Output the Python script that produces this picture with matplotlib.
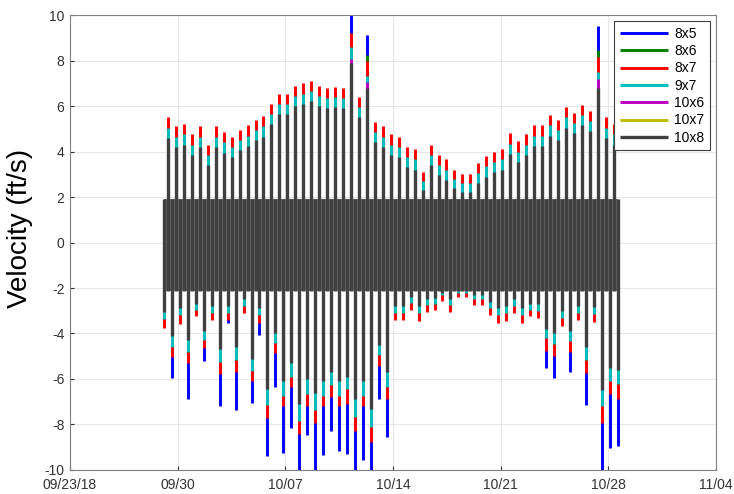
import pandas as pd
import matplotlib
matplotlib.use('Agg')
import matplotlib.pyplot as plt

plt.rcParams['font.family'] = ['Liberation Sans', 'DejaVu Sans']
plt.rcParams['axes.unicode_minus'] = False

# culvert sizes and line colours (old MATLAB colour order)
sizes = ['8x5', '8x6', '8x7', '9x7', '10x6', '10x7', '10x8']
colors = ['#0000ff', '#008000', '#ff0000', '#00bfbf', '#bf00bf', '#bfbf00', '#404040']

# one flood peak and one ebb peak per tide cycle (12h25)
first_ebb = '2018-09-29 02:40'
n_ebb = 58
tide_step = '745min'

# flood (positive) peak velocities, ft/s
pos_8x5 = [4.75, 4.35, 4.45, 4.0, 4.35, 3.55, 4.35, 4.1, 3.9, 4.2, 4.4, 4.65, 4.8, 5.35, 5.8, 5.8, 6.15, 6.25, 6.35,
           6.15, 6.05, 6.1, 6.05, 10.0, 5.65, 9.1, 4.55, 4.35, 4.0, 3.9, 3.45, 3.35, 2.4, 3.55, 3.1, 2.9, 2.5, 2.3, 2.3,
           2.75, 3.05, 3.25, 3.35, 4.05, 3.7, 4.0, 4.4, 4.4, 4.85, 4.65, 5.2, 4.95, 5.3, 5.05, 9.5, 4.75, 4.45]
pos_8x6 = [5.3, 4.9, 5.0, 4.55, 4.9, 4.1, 4.9, 4.65, 4.45, 4.75, 4.95, 5.2, 5.35, 5.9, 6.35, 6.35, 6.7, 6.8, 6.9,
           6.7, 6.6, 6.65, 6.6, 9.2, 6.2, 8.25, 5.1, 4.9, 4.55, 4.45, 4.0, 3.9, 2.9, 4.1, 3.65, 3.45, 3.0, 2.8, 2.8,
           3.3, 3.6, 3.8, 3.9, 4.6, 4.25, 4.55, 4.95, 4.95, 5.4, 5.2, 5.75, 5.5, 5.85, 5.6, 8.45, 5.3, 5.0]
pos_8x7 = [5.5, 5.1, 5.2, 4.75, 5.1, 4.3, 5.1, 4.85, 4.65, 4.95, 5.15, 5.4, 5.55, 6.1, 6.55, 6.55, 6.9, 7.0, 7.1,
           6.9, 6.8, 6.85, 6.8, 9.2, 6.4, 8.0, 5.3, 5.1, 4.75, 4.65, 4.2, 4.1, 3.1, 4.3, 3.85, 3.65, 3.2, 3.0, 3.0,
           3.5, 3.8, 4.0, 4.1, 4.8, 4.45, 4.75, 5.15, 5.15, 5.6, 5.4, 5.95, 5.7, 6.05, 5.8, 8.15, 5.5, 5.2]
pos_9x7 = [5.05, 4.65, 4.75, 4.3, 4.65, 3.85, 4.65, 4.4, 4.2, 4.5, 4.7, 4.95, 5.1, 5.65, 6.1, 6.1, 6.45, 6.55, 6.65,
           6.45, 6.35, 6.4, 6.35, 8.6, 5.95, 7.3, 4.85, 4.65, 4.3, 4.2, 3.75, 3.65, 2.7, 3.85, 3.4, 3.2, 2.8, 2.6, 2.6,
           3.05, 3.35, 3.55, 3.65, 4.35, 4.0, 4.3, 4.7, 4.7, 5.15, 4.95, 5.5, 5.25, 5.6, 5.35, 7.5, 5.05, 4.75]
pos_10x6 = [4.5, 4.1, 4.2, 3.75, 4.1, 3.3, 4.1, 3.85, 3.65, 3.95, 4.15, 4.4, 4.55, 5.1, 5.55, 5.55, 5.9, 6.0, 6.1,
            5.9, 5.8, 5.85, 5.8, 8.05, 5.4, 7.05, 4.3, 4.1, 3.75, 3.65, 3.2, 3.1, 2.2, 3.3, 2.85, 2.65, 2.3, 2.1, 2.1,
            2.5, 2.8, 3.0, 3.1, 3.8, 3.45, 3.75, 4.15, 4.15, 4.6, 4.4, 4.95, 4.7, 5.05, 4.8, 7.2, 4.5, 4.2]
pos_10x7 = [4.4, 4.0, 4.1, 3.65, 4.0, 3.2, 4.0, 3.75, 3.55, 3.85, 4.05, 4.3, 4.45, 5.0, 5.45, 5.45, 5.8, 5.9, 6.0,
            5.8, 5.7, 5.75, 5.7, 7.8, 5.3, 6.7, 4.2, 4.0, 3.65, 3.55, 3.1, 3.0, 2.1, 3.2, 2.75, 2.55, 2.2, 2.0, 2.0,
            2.4, 2.7, 2.9, 3.0, 3.7, 3.35, 3.65, 4.05, 4.05, 4.5, 4.3, 4.85, 4.6, 4.95, 4.7, 6.7, 4.4, 4.1]
pos_10x8 = [4.6, 4.2, 4.3, 3.85, 4.2, 3.4, 4.2, 3.95, 3.75, 4.05, 4.25, 4.5, 4.65, 5.2, 5.65, 5.65, 6.0, 6.1, 6.2,
            6.0, 5.9, 5.95, 5.9, 7.9, 5.5, 6.8, 4.4, 4.2, 3.85, 3.75, 3.3, 3.2, 2.3, 3.4, 2.95, 2.75, 2.4, 2.2, 2.2,
            2.6, 2.9, 3.1, 3.2, 3.9, 3.55, 3.85, 4.25, 4.25, 4.7, 4.5, 5.05, 4.8, 5.15, 4.9, 6.8, 4.6, 4.3]

# ebb (negative) peak velocities, ft/s
neg_8x5 = [-3.6, -5.95, -3.4, -6.9, -3.1, -5.2, -3.2, -7.2, -3.55, -7.35, -2.9, -7.05, -4.05, -9.4, -6.35, -9.25,
           -8.15, -10.3, -8.45, -10.2, -9.35, -8.3, -9.15, -9.3, -10.4, -9.55, -10.3, -6.9, -8.55, -3.2, -3.2, -2.75,
           -3.25, -2.85, -2.8, -2.4, -2.85, -2.25, -2.25, -2.6, -2.6, -3.0, -3.35, -3.25, -2.95, -3.35, -3.1, -3.1,
           -5.5, -5.95, -3.45, -5.7, -3.25, -7.15, -3.3, -10.5, -9.05, -8.95]
neg_8x6 = [-3.6, -4.9, -3.45, -5.15, -3.1, -4.5, -3.25, -5.65, -3.25, -5.55, -2.95, -5.95, -3.4, -7.55, -4.7, -7.05,
           -6.2, -8.25, -7.05, -7.8, -7.05, -6.65, -7.05, -6.95, -8.15, -7.05, -8.6, -5.3, -6.75, -3.25, -3.25, -2.8,
           -3.3, -2.9, -2.8, -2.4, -2.9, -2.25, -2.25, -2.6, -2.6, -3.05, -3.4, -3.3, -2.95, -3.4, -3.1, -3.15,
           -4.6, -4.85, -3.5, -4.65, -3.25, -5.6, -3.35, -7.8, -6.5, -6.75]
neg_8x7 = [-3.75, -5.05, -3.6, -5.3, -3.25, -4.65, -3.4, -5.8, -3.4, -5.7, -3.1, -6.1, -3.55, -7.7, -4.85, -7.2,
           -6.35, -8.4, -7.2, -7.95, -7.2, -6.8, -7.2, -7.1, -8.3, -7.2, -8.75, -5.45, -6.9, -3.4, -3.4, -2.95,
           -3.45, -3.05, -2.95, -2.55, -3.05, -2.4, -2.4, -2.75, -2.75, -3.2, -3.55, -3.45, -3.1, -3.55, -3.25, -3.3,
           -4.75, -5.0, -3.65, -4.8, -3.4, -5.75, -3.5, -7.95, -6.65, -6.9]
neg_9x7 = [-3.35, -4.6, -3.2, -4.8, -2.95, -4.3, -3.1, -5.25, -3.1, -5.15, -2.8, -5.65, -3.2, -7.15, -4.4, -6.75,
           -5.9, -7.85, -6.65, -7.35, -6.75, -6.25, -6.75, -6.45, -7.65, -6.75, -8.1, -4.95, -6.35, -3.1, -3.1, -2.65,
           -3.1, -2.75, -2.7, -2.3, -2.75, -2.2, -2.2, -2.5, -2.5, -2.9, -3.2, -3.1, -2.8, -3.2, -2.95, -3.0,
           -4.2, -4.45, -3.3, -4.35, -3.1, -5.15, -3.15, -7.2, -6.1, -6.2]
neg_10x6 = [-2.95, -4.0, -2.8, -4.2, -2.6, -3.8, -2.7, -4.6, -2.7, -4.5, -2.4, -5.0, -2.8, -6.35, -3.9, -6.0,
            -5.2, -7.0, -5.9, -6.5, -6.0, -5.6, -6.0, -5.8, -6.8, -6.0, -7.2, -4.4, -5.6, -2.7, -2.7, -2.3,
            -2.7, -2.4, -2.35, -2.1, -2.4, -2.05, -2.05, -2.2, -2.2, -2.5, -2.8, -2.7, -2.4, -2.8, -2.6, -2.6,
            -3.7, -3.9, -2.9, -3.8, -2.7, -4.5, -2.75, -6.4, -5.4, -5.5]
neg_10x7 = [-2.85, -3.9, -2.7, -4.1, -2.5, -3.7, -2.6, -4.5, -2.6, -4.4, -2.3, -4.9, -2.7, -6.25, -3.8, -5.9,
            -5.1, -6.9, -5.8, -6.4, -5.9, -5.5, -5.9, -5.7, -6.7, -5.9, -7.1, -4.3, -5.5, -2.6, -2.6, -2.2,
            -2.6, -2.3, -2.25, -2.0, -2.3, -1.95, -1.95, -2.1, -2.1, -2.4, -2.7, -2.6, -2.3, -2.7, -2.5, -2.5,
            -3.6, -3.8, -2.8, -3.7, -2.6, -4.4, -2.65, -6.3, -5.3, -5.4]
neg_10x8 = [-3.05, -4.1, -2.9, -4.3, -2.7, -3.9, -2.8, -4.7, -2.8, -4.6, -2.5, -5.1, -2.9, -6.45, -4.0, -6.1,
            -5.3, -7.1, -6.0, -6.6, -6.1, -5.7, -6.1, -5.9, -6.9, -6.1, -7.3, -4.5, -5.7, -2.8, -2.8, -2.4,
            -2.8, -2.5, -2.45, -2.2, -2.5, -2.15, -2.15, -2.3, -2.3, -2.6, -2.9, -2.8, -2.5, -2.9, -2.7, -2.7,
            -3.8, -4.0, -3.0, -3.9, -2.8, -4.6, -2.85, -6.5, -5.5, -5.6]

# range the 10x8 velocity keeps swinging through between peaks
band_10x8 = (-2.15, 1.9)

pos_all = [pos_8x5, pos_8x6, pos_8x7, pos_9x7, pos_10x6, pos_10x7, pos_10x8]
neg_all = [neg_8x5, neg_8x6, neg_8x7, neg_9x7, neg_10x6, neg_10x7, neg_10x8]

xtick_dates = pd.date_range('2018-09-23', '2018-11-04', freq='7D')
xtick_labels = ['09/23/18', '09/30', '10/07', '10/14', '10/21', '10/28', '11/04']


def main():
    ebb_times = pd.date_range(first_ebb, periods=n_ebb, freq=tide_step)
    flood_times = ebb_times[:-1] + pd.Timedelta(tide_step) / 2

    fig = plt.figure(figsize=(7.34, 4.94), dpi=100)
    ax = fig.add_axes([0.0954, 0.0486, 0.88, 0.921])

    lw = 2.1
    for name, col, pos, neg in zip(sizes[:-1], colors[:-1], pos_all[:-1], neg_all[:-1]):
        ax.vlines(flood_times, 0, pos, colors=col, linewidth=lw, label=name, zorder=2)
        ax.vlines(ebb_times, neg, 0, colors=col, linewidth=lw, zorder=2)

    # 10x8 drawn last: band behind, then its swings right through the band
    lo, hi = band_10x8
    ax.fill_between([ebb_times[0], ebb_times[-1]], lo, hi, color='#6a6a6a', linewidth=0, zorder=2.5)
    ax.vlines(flood_times, lo, pos_10x8, colors=colors[-1], linewidth=2.4, label=sizes[-1], zorder=3)
    ax.vlines(ebb_times, neg_10x8, hi, colors=colors[-1], linewidth=2.4, zorder=3)

    ax.set_xlim(xtick_dates[0], xtick_dates[-1])
    ax.set_ylim(-10, 10)
    ax.set_xticks(xtick_dates)
    ax.set_xticklabels(xtick_labels)
    ax.set_yticks(range(-10, 11, 2))
    ax.tick_params(direction='in', length=3, labelsize=10, colors='#333333', pad=4)
    ax.tick_params(axis='x', pad=6)
    ax.grid(True, color='#e6e6e6', linewidth=0.8, zorder=0)
    ax.set_axisbelow(True)
    for sp in ax.spines.values():
        sp.set_color('#808080')
    ax.set_ylabel('Velocity (ft/s)', fontsize=20)
    ax.yaxis.set_label_coords(-0.058, 0.53)

    leg = ax.legend(loc='upper right', fontsize=10, frameon=True, fancybox=False,
                    framealpha=1, edgecolor='#404040', borderaxespad=0.45,
                    handlelength=3.5, handletextpad=0.4, labelspacing=0.24)
    leg.get_frame().set_linewidth(0.8)

    fig.savefig('out.png', dpi=100)


if __name__ == '__main__':
    main()
